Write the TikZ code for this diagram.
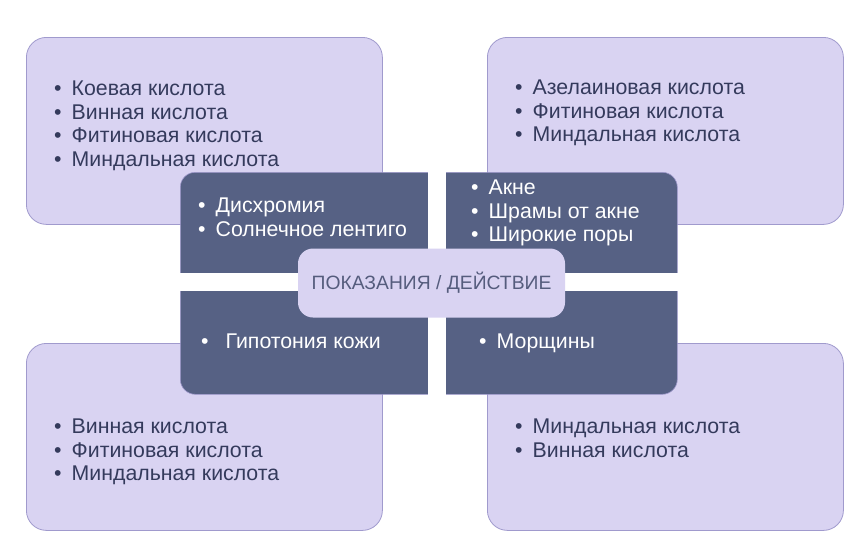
\documentclass[tikz,border=0pt]{standalone}
\usepackage{fontspec}
\setmainfont{Liberation Sans}
\definecolor{lilac}{RGB}{217,211,242}
\definecolor{lilacline}{RGB}{160,154,205}
\definecolor{slate}{RGB}{86,97,132}
\definecolor{ink}{RGB}{52,58,92}
\definecolor{capink}{RGB}{85,92,125}
\newcommand{\bul}[1][17.5pt]{\makebox[#1][l]{•}}

\begin{document}
\begin{tikzpicture}[x=1pt,y=-1pt]
  \tikzstyle{acid}=[draw=lilacline, fill=lilac, line width=0.8pt, rounded corners=20pt,
    minimum width=356pt, minimum height=187pt, anchor=north west, inner sep=0pt]
  \tikzstyle{list}=[anchor=north west, inner sep=0pt, align=left,
    font=\fontsize{21.3}{23.4}\selectfont]
  \useasboundingbox (0,0) rectangle (850,539);

  % acids
  \node[acid] (A_tl) at (26,37) {};
  \node[acid] (A_tr) at (487,37) {};
  \node[acid] (A_bl) at (26,343) {};
  \node[acid] (A_br) at (487,343) {};

  % indications block, split by a white cross
  \node[fill=slate, draw=lilacline, line width=0.6pt, rounded corners=15pt, anchor=north west,
    minimum width=497pt, minimum height=222pt, inner sep=0pt] (I_all) at (180,172) {};
  \fill[white] (428,165) rectangle (446,401);
  \fill[white] (174,273) rectangle (683,291);

  \node[fill=lilac, rounded corners=15pt, minimum width=267pt, minimum height=69pt,
    text=capink, font=\fontsize{19.3}{20}\selectfont] (C) at (431.5,283) {ПОКАЗАНИЯ / ДЕЙСТВИЕ};

  % texts
  \node[list, text=ink] (L_tl) at (54,81)
    {\bul Коевая кислота\\\bul Винная кислота\\\bul Фитиновая кислота\\\bul Миндальная кислота};
  \node[list, text=ink] (L_tr) at (515,80)
    {\bul Азелаиновая кислота\\\bul Фитиновая кислота\\\bul Миндальная кислота};
  \node[list, text=ink] (L_bl) at (54,419)
    {\bul Винная кислота\\\bul Фитиновая кислота\\\bul Миндальная кислота};
  \node[list, text=ink] (L_br) at (515,419)
    {\bul Миндальная кислота\\\bul Винная кислота};

  \node[list, text=white] (I_tl) at (198,198) {\bul Дисхромия\\\bul Солнечное лентиго};
  \node[list, text=white] (I_tr) at (471,180) {\bul Акне\\\bul Шрамы от акне\\\bul Широкие поры};
  \node[list, text=white] (I_bl) at (201,334) {\bul[24.5pt]Гипотония кожи};
  \node[list, text=white] (I_br) at (479,334) {\bul Морщины};
\end{tikzpicture}
\end{document}
